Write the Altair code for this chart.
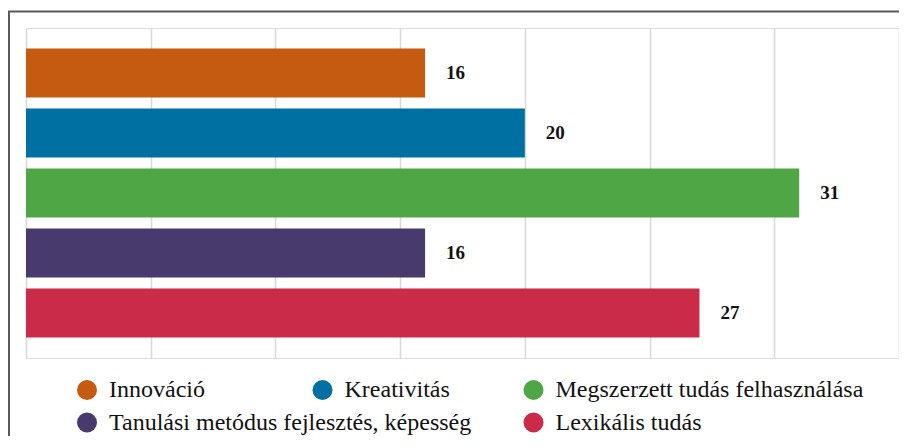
import altair as alt
import pandas as pd

categories = [
    "Innováció",
    "Kreativitás",
    "Megszerzett tudás felhasználása",
    "Tanulási metódus fejlesztés, képesség",
    "Lexikális tudás",
]
values = [16, 20, 31, 16, 27]
colors = ["#C55A11", "#0070A3", "#4EA645", "#483A6D", "#C92B48"]

legend_b_domain = ["Kreativitás", "Megszerzett tudás felhasználása", " ", "Lexikális tudás"]
legend_b_colors = ["#0070A3", "#4EA645", "rgba(0,0,0,0)", "#C92B48"]

df = pd.DataFrame({"category": categories, "value": values})

FONT = "Liberation Serif"
LABEL_SIZE = 24

label_expr = ("(datum.label == 'Kreativitás' || datum.label == 'Tanulási metódus fejlesztés, képesség') "
              "? '\u00a0' + datum.label : datum.label")

x_scale = alt.Scale(domain=[0, 35], nice=False, zero=True)
y_scale = alt.Scale(domain=categories, paddingInner=0.183, paddingOuter=0.342)

base = alt.Chart(df)

legend_common = dict(
    title=None, symbolType="circle", symbolSize=400, symbolOpacity=1,
    symbolStrokeWidth=0, labelOffset=10, labelFont=FONT,
    labelFontSize=LABEL_SIZE, labelColor="#111111", labelLimit=600,
    rowPadding=8.5, padding=0, labelExpr=label_expr,
)

bars = base.mark_bar(opacity=1).encode(
    x=alt.X("value:Q", scale=x_scale,
            axis=alt.Axis(labels=False, ticks=False, domain=False, title=None, grid=True,
                          values=[0, 5, 10, 15, 20, 25, 30, 35],
                          gridColor="#d9d9d9", gridWidth=1.6)),
    y=alt.Y("category:N", scale=y_scale, axis=None),
    color=alt.Color("category:N",
                    scale=alt.Scale(domain=categories, range=colors),
                    legend=alt.Legend(
                        values=["Innováció", "Tanulási metódus fejlesztés, képesség"],
                        orient="none", legendX=49, legendY=350, direction="vertical",
                        **legend_common)),
)

texts = base.mark_text(align="left", baseline="middle", dx=21, font=FONT,
                       fontWeight="bold", fontSize=19, color="#111111").encode(
    x=alt.X("value:Q", scale=x_scale),
    y=alt.Y("category:N", scale=y_scale),
    text=alt.Text("value:Q"),
)

legend_b = base.transform_filter("datum.value < 0").mark_point(filled=True, opacity=1).encode(
    fill=alt.Fill("category:N",
                  scale=alt.Scale(domain=legend_b_domain, range=legend_b_colors),
                  legend=alt.Legend(
                      orient="none", legendX=284.5, legendY=350, direction="horizontal",
                      columns=2, columnPadding=71,
                      **legend_common)),
)

frame = alt.Chart(pd.DataFrame({"k": [0]}))
left_border = frame.mark_rule(color="#595959", strokeWidth=2).encode(
    x=alt.value(-17), y=alt.value(-17), y2=alt.value(410))
top_border = frame.mark_rule(color="#595959", strokeWidth=2).encode(
    x=alt.value(-18), x2=alt.value(880), y=alt.value(-16.5))

chart = alt.layer(bars, texts, legend_b, left_border, top_border).properties(
    width=873, height=330,
    padding={"left": 18, "top": 20, "right": 0, "bottom": 78},
    autosize=alt.AutoSizeParams(type="none"),
).configure_view(strokeWidth=0).configure(background="white")

chart.save("out.html", embed_options={"renderer": "svg", "actions": False})
